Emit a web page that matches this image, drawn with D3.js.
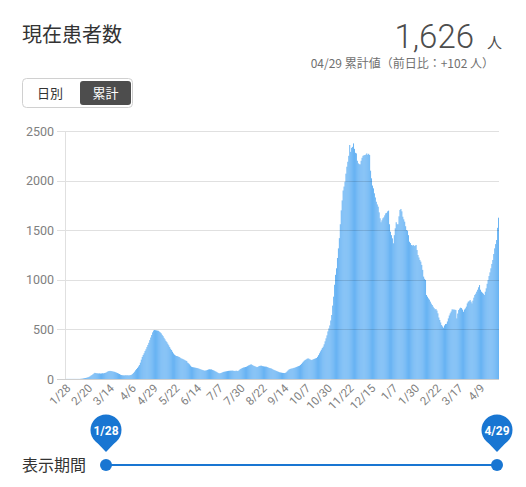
<!DOCTYPE html>
<html>
<head>
<meta charset="utf-8">
<script src="https://cdn.jsdelivr.net/npm/d3@7"></script>
<style>
  body { margin: 0; background: #fff; }
  svg text { font-family: Roboto, "Noto Sans CJK JP", sans-serif; }
</style>
</head>
<body>
<div id="chart"></div>
<script>
// daily values of 現在患者数 from 1/28 (2020) to 4/29 (2021)
var startDate = new Date(2020, 0, 28);
var patients = [
  1,1,1,1,1,1,1,1,1,1,1,1,1,1,1,1,2,3,4,6,8,10,12,15,
  18,22,28,35,40,48,55,62,60,58,
  57,56,57,55,56,58,57,60,62,66,
  72,78,80,82,80,79,76,74,72,68,
  64,60,55,50,44,40,38,37,36,38,
  37,38,37,36,38,40,44,52,62,74,
  88,100,112,126,141,165,195,222,242,260,
  282,300,322,343,365,392,418,443,470,488,
  494,492,490,488,486,478,470,460,445,432,
  415,400,384,372,356,340,322,305,292,275,
  258,246,238,232,230,226,222,215,208,205,
  200,196,190,185,181,165,158,148,135,124,
  120,118,116,114,112,110,107,104,100,96,
  93,90,87,84,86,88,92,96,98,97,
  97,92,88,84,78,74,68,62,58,57,
  60,64,68,72,74,76,78,80,82,83,
  84,84,85,83,82,80,84,82,80,86,
  95,102,107,112,116,118,121,124,130,136,
  140,145,148,142,136,132,128,124,120,122,
  128,132,134,134,130,128,126,125,124,120,
  116,112,109,107,102,96,92,88,84,80,
  76,72,68,66,64,62,61,60,62,68,
  78,88,96,101,104,106,108,112,114,118,
  122,126,130,134,142,152,164,175,185,192,
  198,204,208,204,198,194,191,196,200,204,
  208,212,224,240,259,278,295,312,326,350,
  380,410,440,480,510,540,590,645,740,830,
  950,1050,1116,1220,1317,1420,1560,1700,1800,1900,
  1940,1989,2070,2140,2190,2250,2359,2290,2330,2340,
  2375,2320,2280,2274,2200,2174,2165,2164,2200,2230,
  2250,2255,2258,2262,2274,2260,2270,2258,2100,2023,
  1950,1922,1872,1830,1787,1760,1737,1680,1620,1580,
  1600,1620,1630,1650,1670,1675,1690,1697,1560,1485,
  1450,1418,1368,1450,1519,1580,1560,1560,1640,1704,
  1714,1690,1636,1610,1586,1540,1502,1495,1450,1384,
  1370,1351,1345,1351,1340,1345,1351,1300,1250,1225,
  1200,1183,1150,1100,1032,1010,998,847,830,813,
  800,780,760,746,729,715,702,705,690,662,
  620,595,570,544,530,517,540,554,556,580,
  611,640,662,680,702,700,700,698,695,611,
  660,695,710,719,715,700,678,700,712,730,
  762,779,785,796,780,762,790,820,847,860,
  880,900,925,947,900,880,870,860,847,880,
  914,960,998,1038,1075,1116,1160,1200,1260,1317,
  1360,1401,1524,1626
];
var yTicks = [0, 500, 1000, 1500, 2000, 2500];
var xTickLabels = ['1/28','2/20','3/14','4/6','4/29','5/22','6/14','7/7','7/30','8/22',
  '9/14','10/7','10/30','11/22','12/15','1/7','1/30','2/22','3/17','4/9'];

var width = 526, height = 487;
var svg = d3.select('#chart').append('svg').attr('width', width).attr('height', height);

var days = patients.map(function(d, i) { return d3.timeDay.offset(startDate, i); });
var fmtMD = d3.timeFormat('%-m/%-d');
var labels = days.map(fmtMD);

var x = d3.scaleBand().domain(d3.range(patients.length)).range([65, 499]).padding(0);
var y = d3.scaleLinear().domain([0, 2500]).range([379, 131]);

// header
svg.append('text').attr('x', 22).attr('y', 42).attr('font-size', 20).attr('fill', '#333')
  .style('font-family', '"Noto Sans CJK JP"').text('現在患者数');

var last = patients[patients.length - 1];
var diff = last - patients[patients.length - 2];
svg.append('text').attr('x', 474).attr('y', 48).attr('text-anchor', 'end')
  .attr('font-size', 33).attr('font-weight', 300).attr('fill', '#4d4d4d').text(d3.format(',')(last));
svg.append('text').attr('x', 487).attr('y', 48).attr('font-size', 15).attr('fill', '#4d4d4d')
  .style('font-family', '"Noto Sans CJK JP"').text('人');
svg.append('text').attr('x', 494).attr('y', 68).attr('text-anchor', 'end')
  .attr('font-size', 12).attr('fill', '#707070')
  .style('font-family', '"Noto Sans CJK JP"')
  .text(d3.timeFormat('%m/%d')(days[days.length - 1]) + ' 累計値（前日比：+' + diff + ' 人）');

// toggle
svg.append('rect').attr('x', 22.5).attr('y', 78.5).attr('width', 110).attr('height', 29)
  .attr('rx', 4).attr('fill', '#fff').attr('stroke', '#d0d0d0');
svg.append('rect').attr('x', 80).attr('y', 81).attr('width', 51).attr('height', 24)
  .attr('rx', 3).attr('fill', '#4d4d4d');
svg.append('text').attr('x', 50).attr('y', 97.5).attr('text-anchor', 'middle').attr('font-size', 13)
  .attr('fill', '#333').style('font-family', '"Noto Sans CJK JP"').text('日別');
svg.append('text').attr('x', 105.5).attr('y', 97.5).attr('text-anchor', 'middle').attr('font-size', 13)
  .attr('fill', '#fff').style('font-family', '"Noto Sans CJK JP"').text('累計');

// bars
svg.append('g').selectAll('rect').data(patients).enter().append('rect')
  .attr('x', function(d, i) { return x(i); })
  .attr('y', function(d) { return y(d); })
  .attr('width', x.bandwidth())
  .attr('height', function(d) { return y(0) - y(d); })
  .attr('fill', '#62b0f3');

// grid + y axis
var grid = svg.append('g');
grid.selectAll('line').data(yTicks).enter().append('line')
  .attr('x1', 57).attr('x2', 499)
  .attr('y1', function(d) { return Math.round(y(d)) + 0.5; })
  .attr('y2', function(d) { return Math.round(y(d)) + 0.5; })
  .attr('stroke', function(d) { return d === 0 ? '#cfcfcf' : 'rgba(0,0,0,0.12)'; });
svg.append('line').attr('x1', 65.5).attr('x2', 65.5).attr('y1', y(2500)).attr('y2', 379)
  .attr('stroke', '#e0e0e0');
svg.append('g').selectAll('text').data(yTicks).enter().append('text')
  .attr('x', 54).attr('y', function(d) { return y(d) + 4.5; })
  .attr('text-anchor', 'end').attr('font-size', 12.5).attr('fill', '#808080')
  .text(function(d) { return d; });

// x labels
svg.append('g').selectAll('text').data(xTickLabels).enter().append('text')
  .attr('transform', function(d, k) {
    var i = k * 23;
    return 'translate(' + (x(i) + x.bandwidth() / 2 + 3) + ',386) rotate(-45)';
  })
  .attr('text-anchor', 'end').attr('dy', '0.35em').attr('font-size', 11.5).attr('fill', '#808080')
  .text(function(d) { return d; });

// period slider
svg.append('text').attr('x', 22).attr('y', 471).attr('font-size', 16).attr('fill', '#333')
  .style('font-family', '"Noto Sans CJK JP"').text('表示期間');
var s = d3.scaleLinear().domain([0, patients.length - 1]).range([106, 497]);
svg.append('line').attr('x1', s(0)).attr('x2', s(patients.length - 1)).attr('y1', 465).attr('y2', 465)
  .attr('stroke', '#1976d2').attr('stroke-width', 2);
var ends = [0, patients.length - 1];
var pins = svg.append('g').selectAll('g').data(ends).enter().append('g')
  .attr('transform', function(d) { return 'translate(' + s(d) + ',0)'; });
pins.append('circle').attr('cy', 465).attr('r', 6).attr('fill', '#1976d2');
pins.append('circle').attr('cy', 430).attr('r', 15.5).attr('fill', '#1976d2');
pins.append('path').attr('d', 'M-10.5,441 L10.5,441 L0,452 Z').attr('fill', '#1976d2');
pins.append('text').attr('y', 434.5).attr('text-anchor', 'middle').attr('font-size', 12)
  .attr('font-weight', 'bold').attr('fill', '#fff')
  .text(function(d) { return labels[d]; });
</script>
</body>
</html>
